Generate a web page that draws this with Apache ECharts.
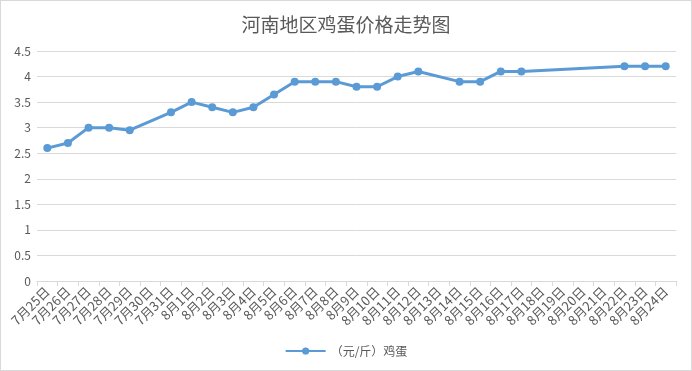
<!DOCTYPE html>
<html><head><meta charset="utf-8">
<script src="https://cdn.jsdelivr.net/npm/echarts@6/dist/echarts.min.js"></script>
<style>html,body{margin:0;padding:0;background:#fff}#c{width:692px;height:371px;box-sizing:border-box;border:1px solid #d9d9d9}</style>
</head><body><div id="c"></div>
<script>
const categories = ['7月25日','7月26日','7月27日','7月28日','7月29日','7月30日','7月31日','8月1日','8月2日','8月3日','8月4日','8月5日','8月6日','8月7日','8月8日','8月9日','8月10日','8月11日','8月12日','8月13日','8月14日','8月15日','8月16日','8月17日','8月18日','8月19日','8月20日','8月21日','8月22日','8月23日','8月24日'];
const eggPrices = [2.6,2.7,3.0,3.0,2.95,null,3.3,3.5,3.4,3.3,3.4,3.65,3.9,3.9,3.9,3.8,3.8,4.0,4.1,null,3.9,3.9,4.1,4.1,null,null,null,null,4.2,4.2,4.2];
const seriesName = '（元/斤）鸡蛋';
const titleText = '河南地区鸡蛋价格走势图';

const chart = echarts.init(document.getElementById('c'));
chart.setOption({
  animation: false,
  title: {text: titleText, left: 'center', top: 9, textStyle: {fontSize: 19, fontWeight: 'normal', color: '#595959', fontFamily: 'Noto Sans CJK SC'}},
  grid: {left: 36, right: 15, top: 50, bottom: 89, containLabel: false},
  legend: {bottom: 8, left: 'center', itemWidth: 40, itemHeight: 9, textStyle: {color: '#595959', fontSize: 12, fontFamily: 'Noto Sans CJK SC'}, data: [seriesName]},
  xAxis: {type: 'category', data: categories, boundaryGap: true,
    axisLine: {lineStyle: {color: '#d9d9d9'}},
    axisTick: {show: true, alignWithLabel: false, length: 5, lineStyle: {color: '#d9d9d9'}},
    axisLabel: {interval: 0, rotate: 45, color: '#595959', fontSize: 13, fontFamily: 'Noto Sans CJK SC', margin: 8}},
  yAxis: {type: 'value', min: 0, max: 4.5, interval: 0.5,
    axisLine: {show: false}, axisTick: {show: false},
    splitLine: {lineStyle: {color: '#d9d9d9'}},
    axisLabel: {color: '#595959', fontSize: 12, fontFamily: 'Noto Sans CJK SC', margin: 6}},
  series: [{name: seriesName, type: 'line', data: eggPrices, connectNulls: true,
    symbol: 'circle', symbolSize: 8,
    lineStyle: {color: '#5B9BD5', width: 3},
    itemStyle: {color: '#5B9BD5'}}]
});
</script></body></html>
